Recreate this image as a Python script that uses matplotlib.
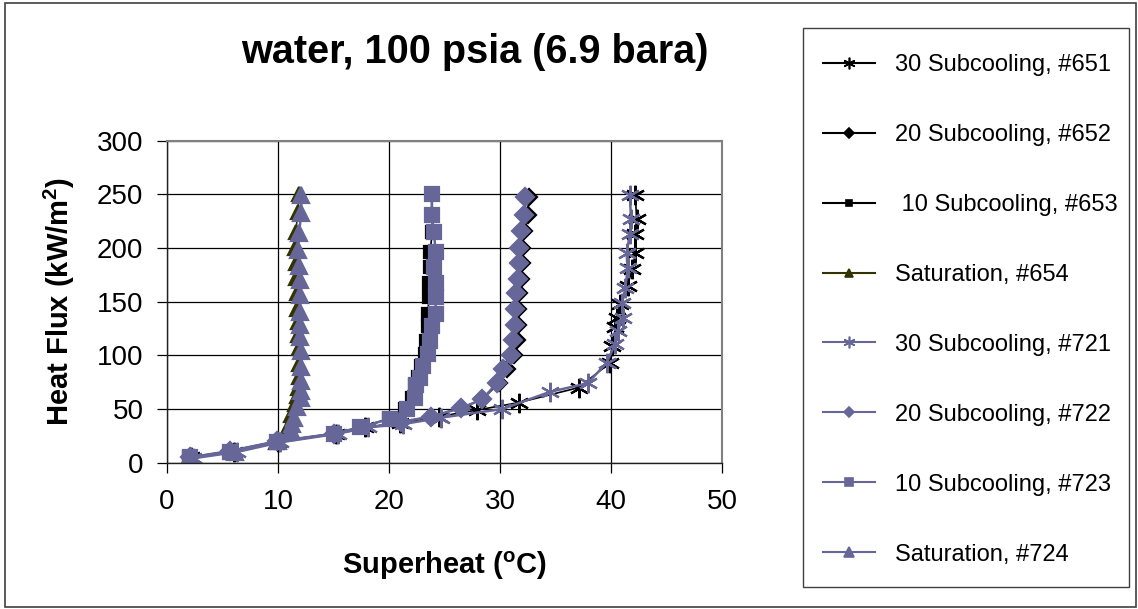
import matplotlib
matplotlib.use('Agg')
import matplotlib.pyplot as plt
from matplotlib.patches import Rectangle

plt.rcParams['font.family'] = ['Liberation Sans', 'DejaVu Sans']
plt.rcParams['mathtext.fontset'] = 'custom'
plt.rcParams['mathtext.rm'] = 'Liberation Sans'
plt.rcParams['mathtext.bf'] = 'Liberation Sans:bold'
plt.rcParams['mathtext.default'] = 'bf'

# superheat (C) and heat flux (kW/m2)
x651 = [2.2, 6.0, 10.0, 15.2, 17.8, 21.0, 24.5, 27.9, 31.7, 37.1, 39.9, 40.1, 40.4, 40.5, 40.8, 41.5, 41.9, 42.2, 42.2, 42.3, 42.2]
y651 = [5, 10, 19, 27, 33, 37, 43, 49, 56, 70, 93, 109, 126, 135, 148, 165, 180, 195, 213, 227, 249]

x652 = [2.1, 5.7, 9.9, 15.0, 21.1, 23.8, 26.5, 28.4, 29.9, 30.6, 31.3, 31.5, 31.6, 31.6, 31.7, 31.9, 32.0, 32.0, 32.2, 32.5, 32.6]
y652 = [5, 11, 20, 27, 38, 43, 51, 59, 74, 87, 100, 114, 128, 143, 158, 171, 186, 200, 216, 231, 248]

x653 = [2.0, 5.7, 9.9, 15.0, 17.4, 20.0, 21.4, 22.1, 22.3, 22.6, 22.9, 23.2, 23.3, 23.5, 23.5, 23.6, 23.6, 23.7, 23.7, 23.9, 23.9, 23.9]
y653 = [5, 10, 19, 27, 33, 41, 50, 60, 72, 80, 90, 101, 113, 127, 139, 154, 167, 182, 196, 215, 231, 250]

x654 = [2.0, 5.8, 9.8, 10.8, 11.0, 11.2, 11.5, 11.7, 11.8, 11.9, 11.9, 11.9, 11.8, 11.8, 11.7, 11.7, 11.6, 11.6, 11.5, 11.6, 11.8, 11.9]
y654 = [5, 10, 19, 28, 35, 44, 55, 62, 70, 80, 92, 107, 119, 131, 143, 158, 172, 186, 200, 215, 234, 250]

x721 = [2.3, 6.3, 10.2, 15.4, 18.1, 21.3, 24.7, 30.2, 34.5, 37.9, 39.6, 40.4, 40.6, 41.1, 41.0, 41.3, 41.5, 41.4, 41.7, 41.8, 41.7]
y721 = [4, 10, 19, 27, 33, 36, 42, 50, 66, 74, 93, 111, 123, 135, 149, 163, 181, 195, 213, 227, 249]

x722 = [2.1, 5.7, 9.9, 15.0, 21.1, 23.8, 26.5, 28.4, 29.7, 30.3, 31.0, 31.2, 31.35, 31.35, 31.4, 31.6, 31.7, 31.7, 31.9, 32.2, 32.25]
y722 = [5, 11, 20, 27, 38, 43, 51, 59, 74, 87, 100, 114, 128, 143, 158, 171, 186, 200, 216, 231, 248]

x723 = [2.1, 5.7, 9.9, 15.0, 17.4, 20.1, 21.6, 22.3, 22.4, 22.8, 23.1, 23.5, 23.7, 23.9, 24.2, 24.2, 24.2, 24.05, 24.2, 24.05, 23.85, 23.85]
y723 = [5, 10, 19, 27, 33, 41, 50, 60, 72, 79, 90, 101, 113, 127, 139, 154, 167, 182, 196, 215, 231, 250]

x724 = [2.1, 6.1, 10.0, 11.2, 11.3, 11.4, 11.7, 12.1, 12.1, 12.1, 12.1, 12.1, 12.0, 12.0, 12.0, 12.0, 12.0, 11.9, 11.8, 11.9, 12.1, 12.1]
y724 = [5, 10, 20, 30, 36, 42, 52, 60, 67, 76, 89, 104, 117, 128, 140, 156, 170, 183, 198, 214, 233, 249]

labels = ['30 Subcooling, #651', '20 Subcooling, #652', ' 10 Subcooling, #653', 'Saturation, #654',
          '30 Subcooling, #721', '20 Subcooling, #722', '10 Subcooling, #723', 'Saturation, #724']

blue = '#666699'
olive = '#333300'
star = (6, 2, 0)

fig = plt.figure(figsize=(11.38, 6.09), dpi=100)
fig.patches.append(Rectangle((5 / 1138, 2 / 609), 1131 / 1138, 604 / 609, transform=fig.transFigure,
                             fill=False, edgecolor='#404040', linewidth=1.2))
# legend box
fig.patches.append(Rectangle((803 / 1138, 1 - 587 / 609), 326 / 1138, 559 / 609, transform=fig.transFigure,
                             fill=False, edgecolor='#404040', linewidth=1.0))

ax = fig.add_axes([167 / 1138, 1 - 462.7 / 609, 555 / 1138, 322 / 609])

series = [
    (x651, y651, 'k', star, 14, 1.2),
    (x652, y652, 'k', 'D', 8, 1.2),
    (x653, y653, 'k', 's', 8, 1.2),
    (x654, y654, olive, '^', 10, 1.2),
    (x721, y721, blue, star, 14, 1.8),
    (x722, y722, blue, 'D', 9, 1.8),
    (x723, y723, blue, 's', 9.5, 1.8),
    (x724, y724, blue, '^', 11, 1.8),
]
handles = []
for (xs, ys, c, m, ms, lw), lab in zip(series, labels):
    h, = ax.plot(xs, ys, color=c, marker=m, markersize=ms, linewidth=lw,
                 markerfacecolor=c, markeredgecolor=c, markeredgewidth=1.6, label=lab)
    handles.append(h)

ax.set_xlim(0, 50)
ax.set_ylim(0, 300)
ax.set_xticks(range(0, 51, 10))
ax.set_yticks(range(0, 301, 50))
ax.grid(True, color='black', linewidth=0.9)
ax.set_axisbelow(True)
for side in ['top', 'right']:
    ax.spines[side].set_color('#808080')
    ax.spines[side].set_linewidth(1.5)
for side in ['left', 'bottom']:
    ax.spines[side].set_color('#202020')
    ax.spines[side].set_linewidth(1.0)
ax.tick_params(axis='both', direction='out', length=7, width=0.9, labelsize=20)
ax.tick_params(axis='x', pad=12)
ax.tick_params(axis='y', pad=10)

ax.set_xlabel('Superheat ($^o$C)', fontsize=21, fontweight='bold', va='center', ha='center')
ax.xaxis.set_label_coords(0.5, (462.7 - 566) / 322)
ax.set_ylabel('Heat Flux (kW/m$^2$)', fontsize=21, fontweight='bold', va='center', ha='center')
ax.yaxis.set_label_coords((59 - 167) / 555, 0.5)

fig.text(474.5 / 1138, 1 - 52 / 609, 'water, 100 psia (6.9 bara)', fontsize=28.5,
         fontweight='bold', ha='center', va='center')

leg = fig.legend(handles, labels, loc='upper left', bbox_to_anchor=(823 / 1138, 1 - 54 / 609),
                 bbox_transform=fig.transFigure, borderaxespad=0, frameon=False,
                 fontsize=17, handlelength=2.2, handletextpad=0.85,
                 borderpad=0, labelspacing=2.03, markerscale=0.6)
for lh in leg.get_lines():
    lh.set_linewidth(1.5)
    lh.set_markeredgewidth(1.2)

fig.savefig('out.png', dpi=100)
